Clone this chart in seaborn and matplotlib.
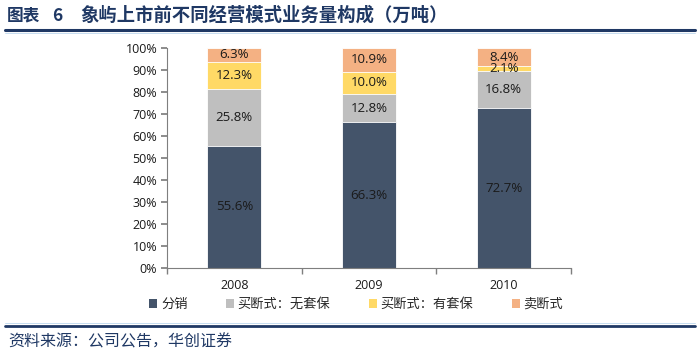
import matplotlib
matplotlib.use("Agg")
import matplotlib.pyplot as plt
import seaborn as sns
import pandas as pd
import numpy as np
from matplotlib.lines import Line2D
from matplotlib.patches import Patch

years = ["2008", "2009", "2010"]
series_names = ["分销", "买断式：无套保", "买断式：有套保", "卖断式"]
fenxiao = [55.6, 66.3, 72.7]
wutaobao = [25.8, 12.8, 16.8]
youtaobao = [12.3, 10.0, 2.1]
maiduan = [6.3, 10.9, 8.4]
colors = ["#44546A", "#BFBFBF", "#FFD966", "#F4B183"]

sns.set_theme(style="white")
plt.rcParams['font.family'] = ['Open Sans', 'Noto Sans CJK SC', 'DejaVu Sans']

fig = plt.figure(figsize=(7, 3.55), dpi=100)
ax = fig.add_axes([0.2386, 0.245, 0.577, 0.62])

vals = [fenxiao, wutaobao, youtaobao, maiduan]
cum = np.cumsum(np.array(vals), axis=0)
for i in range(3, -1, -1):
    df = pd.DataFrame({"year": years, "v": cum[i]})
    sns.barplot(data=df, x="year", y="v", color=colors[i], width=0.4,
                saturation=1, ax=ax, edgecolor="white", linewidth=0.6, zorder=2)

# labels
for j in range(3):
    bottom = 0
    for i in range(4):
        v = vals[i][j]
        ax.text(j, bottom + v / 2, f"{v:.1f}%", ha="center", va="center",
                fontsize=9.5, color="#1a1a1a", family=['Open Sans', 'DejaVu Sans'])
        bottom += v

ax.set_xlim(-0.5, 2.5)
ax.set_ylim(0, 100)
ax.set_yticks(np.arange(0, 101, 10))
ax.set_yticklabels([f"{t}%" for t in range(0, 101, 10)], fontsize=9, color="#1a1a1a")
ax.set_xlabel("")
ax.set_ylabel("")
ax.tick_params(axis="x", length=0, labelsize=9, colors="#1a1a1a", pad=8)
ax.set_xticks([-0.5, 0.5, 1.5, 2.5], minor=True)
ax.tick_params(axis="x", which="minor", length=4, color="#7f7f7f", direction="out", bottom=True)
ax.tick_params(axis="y", length=4, color="#7f7f7f", direction="out", left=True, pad=3)
for s in ["top", "right"]:
    ax.spines[s].set_visible(False)
ax.spines["left"].set_color("#7f7f7f")
ax.spines["bottom"].set_color("#7f7f7f")
ax.spines["left"].set_linewidth(0.8)
ax.spines["bottom"].set_linewidth(0.8)

handles = [Patch(facecolor=c, edgecolor="none") for c in colors]
fig.legend(handles, series_names, loc="center", bbox_to_anchor=(0.509, 0.142), ncol=4,
           frameon=False, handlelength=0.6, handleheight=0.6,
           columnspacing=2.9, handletextpad=0.3, borderpad=0, borderaxespad=0,
           prop={'family': ['Noto Sans CJK SC', 'DejaVu Sans'], 'size': 9.5})

# title and lines
cjk = ['Noto Sans CJK SC', 'DejaVu Sans']
fig.text(7 / 700, 0.956, "图表", fontsize=12, fontweight="bold", color="#1F3864",
         va="center", ha="left", family=cjk)
fig.text(52 / 700, 0.956, "6", fontsize=12.5, fontweight="bold", color="#1F3864",
         va="center", ha="left", family=cjk)
fig.text(80 / 700, 0.956, "象屿上市前不同经营模式业务量构成（万吨）", fontsize=13.2,
         fontweight="bold", color="#1F3864", va="center", ha="left", family=cjk)
fig.add_artist(Line2D([0.007, 0.993], [0.915, 0.915], color="#1F3864", lw=2.2))
fig.add_artist(Line2D([0.007, 0.993], [0.906, 0.906], color="#BDD7EE", lw=0.6))
fig.add_artist(Line2D([0.007, 0.993], [0.082, 0.082], color="#1F3864", lw=2.0))
fig.add_artist(Line2D([0.007, 0.993], [0.090, 0.090], color="#BDD7EE", lw=0.6))
fig.text(8 / 700, 0.037, "资料来源：公司公告，华创证券", fontsize=11.5, style="italic",
         color="#1F3864", va="center", ha="left", family=cjk)

fig.savefig("out.png", dpi=100)
